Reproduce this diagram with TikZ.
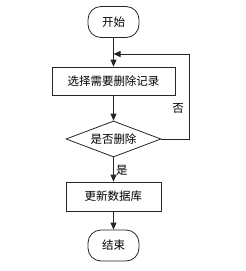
\documentclass[tikz,border=0pt]{standalone}
\usepackage{fontspec}
\setmainfont{Noto Sans CJK SC}
\usepackage{tikz}
\usetikzlibrary{arrows.meta, positioning, shapes.geometric, calc}

\begin{document}
\begin{tikzpicture}[x=1pt, y=-1pt, font=\fontsize{11.5}{13}\selectfont,
  line/.style={draw=black!85, line width=0.8pt},
  arr/.style={line, -{Triangle[length=7pt, width=6pt]}},
  termbox/.style={line, rounded corners=13pt, minimum width=51pt, minimum height=31pt, inner sep=0pt},
  procbox/.style={line, rectangle, minimum height=28pt, inner sep=0pt},
  choice/.style={line, diamond, aspect=2.64, minimum width=95pt, minimum height=36pt, inner sep=0pt}]
  % Canvas
  \useasboundingbox (0,0) rectangle (246,271);

  % Start and end terminals
  \node[termbox] (start) at (113.5,22) {开始};
  \node[termbox] (stop) at (113.5,245.5) {结束};

  % Process steps
  \node[procbox, minimum width=123pt] (select) at (113.5,81) {选择需要删除记录};
  \node[procbox, minimum width=95pt, minimum height=29pt] (update) at (113.5,196.5) {更新数据库};

  % Decision
  \node[choice] (decide) at (113.5,139) {是否删除};

  % Loop join point above the select box
  \coordinate (join) at (113.5,54);

  % Main flow
  \draw[arr] (start) -- (select);
  \draw[arr] (select) -- (decide);
  \draw[arr] (decide) -- (update) node[pos=0.55, right=-1pt] {是};
  \draw[arr] (update) -- (stop);

  % "No" branch back to the top
  \draw[arr] (decide.east) -- ++(28,0) |- (join);
  \node (no) at (178,108) {否};
\end{tikzpicture}
\end{document}
